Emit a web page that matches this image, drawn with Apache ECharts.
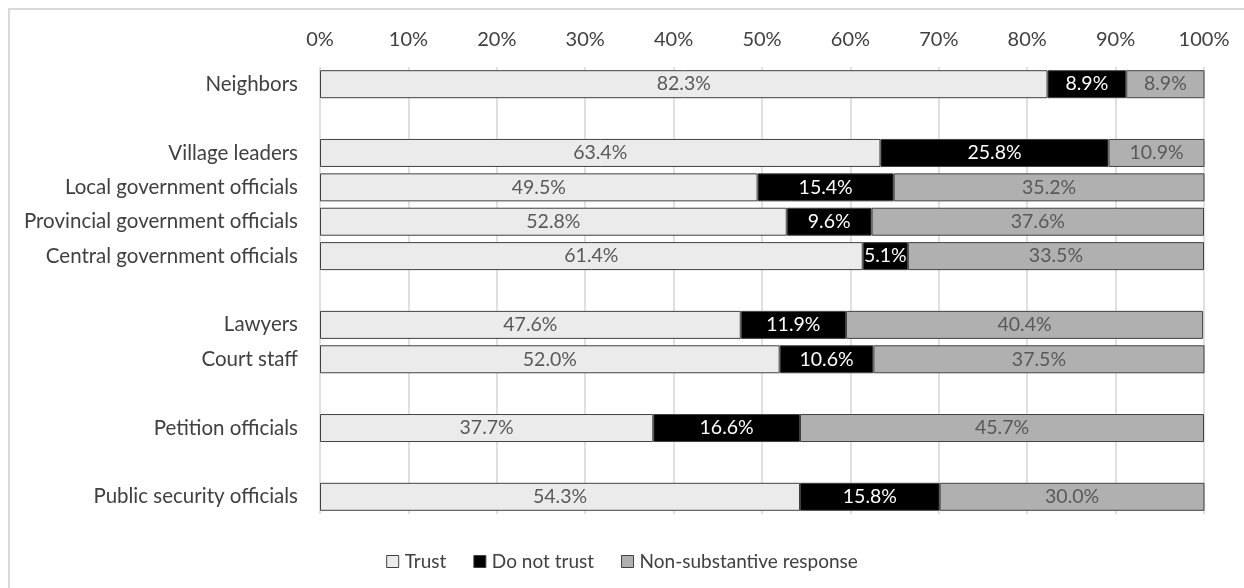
<!DOCTYPE html>
<html>
<head>
<meta charset="utf-8">
<script src="https://cdn.jsdelivr.net/npm/echarts@6/dist/echarts.min.js"></script>
<style>
html,body{margin:0;padding:0;background:#fff;}
#chart{width:1244px;height:588px;}
</style>
</head>
<body>
<div id="chart"></div>
<script>
const categories = ['Neighbors', '', 'Village leaders', 'Local government officials', 'Provincial government officials', 'Central government officials', '', 'Lawyers', 'Court staff', '', 'Petition officials', '', 'Public security officials'];
const trust = [82.3, null, 63.4, 49.5, 52.8, 61.4, null, 47.6, 52.0, null, 37.7, null, 54.3];
const doNotTrust = [8.9, null, 25.8, 15.4, 9.6, 5.1, null, 11.9, 10.6, null, 16.6, null, 15.8];
const nonSubstantive = [8.9, null, 10.9, 35.2, 37.6, 33.5, null, 40.4, 37.5, null, 45.7, null, 30.0];
const seriesNames = ['Trust', 'Do not trust', 'Non-substantive response'];
const tickValues = [0, 10, 20, 30, 40, 50, 60, 70, 80, 90, 100];

const FONT = 'Lato';
const chart = echarts.init(document.getElementById('chart'), null, {renderer: 'canvas'});

function mk(name, data, color, labelColor) {
  return {
    name: name,
    type: 'bar',
    stack: 'total',
    data: data,
    barWidth: 28,
    itemStyle: {color: color, borderColor: '#404040', borderWidth: 1},
    label: {
      show: true,
      position: 'inside',
      color: labelColor,
      fontFamily: FONT,
      fontSize: 19.5,
      formatter: p => p.value == null ? '' : p.value.toFixed(1) + '%'
    },
    emphasis: {disabled: true}
  };
}

chart.setOption({
  animation: false,
  backgroundColor: '#fff',
  graphic: [{
    type: 'rect',
    shape: {x: 9, y: 9, width: 1250, height: 600},
    style: {fill: 'none', stroke: '#d9d9d9', lineWidth: 2},
    silent: true
  }],
  grid: {left: 320, right: 40, top: 67, bottom: 74},
  legend: {
    bottom: 12,
    left: 'center',
    itemWidth: 12,
    itemHeight: 12,
    itemGap: 27,
    icon: 'rect',
    textStyle: {fontFamily: FONT, fontSize: 19, color: '#404040', padding: [0, 0, 0, 1]},
    data: seriesNames.map(n => ({name: n, itemStyle: {borderColor: '#404040', borderWidth: 1}}))
  },
  xAxis: {
    type: 'value',
    position: 'top',
    min: 0,
    max: 100,
    interval: 10,
    axisLine: {show: false},
    axisTick: {show: false},
    axisLabel: {
      fontFamily: FONT, fontSize: 20, color: '#404040', margin: 17,
      formatter: v => tickValues.indexOf(v) >= 0 ? v + '%' : ''
    },
    splitLine: {show: true, lineStyle: {color: '#e0e0e0', width: 2}}
  },
  yAxis: {
    type: 'category',
    inverse: true,
    data: categories,
    axisLine: {show: false},
    axisTick: {show: false},
    axisLabel: {fontFamily: FONT, fontSize: 20.5, color: '#404040', margin: 22}
  },
  series: [
    mk(seriesNames[0], trust, '#ebebeb', '#595959'),
    mk(seriesNames[1], doNotTrust, '#000000', '#ffffff'),
    mk(seriesNames[2], nonSubstantive, '#b0b0b0', '#595959')
  ]
});
</script>
</body>
</html>
